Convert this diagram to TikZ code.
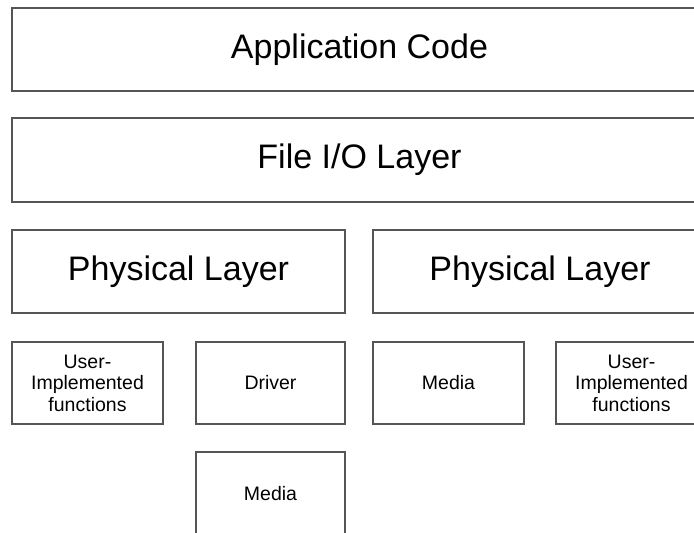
\documentclass[tikz,border=0pt]{standalone}
\usepackage{fontspec}
\setmainfont{Liberation Sans}
\definecolor{boxline}{RGB}{85,85,85}
\begin{document}
\begin{tikzpicture}[x=1pt,y=-1pt,
  layer/.style={draw=boxline, line width=1.3pt, inner sep=0pt, minimum height=83pt, font=\fontsize{34}{40}\selectfont},
  unit/.style={draw=boxline, line width=1.3pt, inner sep=0pt, minimum height=82pt, align=center, font=\fontsize{19.5}{21.5}\selectfont}]
\useasboundingbox (0,0) rectangle (694,533);
\clip (0,0) rectangle (694,533);
\node[layer, minimum width=695pt] (app) at (359.5,49.5){Application Code};
\node[layer, minimum width=695pt, minimum height=84pt] (fileio) at (359.5,160){File I/O Layer};
\node[layer, minimum width=333pt] (phyl) at (178.5,271.5){Physical Layer};
\node[layer, minimum width=334pt] (phyr) at (540,271.5){Physical Layer};
\node[unit, minimum width=151pt] (usrl) at (87.5,383){User-\\Implemented\\functions};
\node[unit, minimum width=149pt] (drv) at (270.5,383){Driver};
\node[unit, minimum width=151pt] (medr) at (448.5,383){Media};
\node[unit, minimum width=151pt] (usrr) at (631.5,383){User-\\Implemented\\functions};
\node[unit, minimum width=149pt, minimum height=83pt] (medl) at (270.5,493.5){Media};
\end{tikzpicture}
\end{document}
